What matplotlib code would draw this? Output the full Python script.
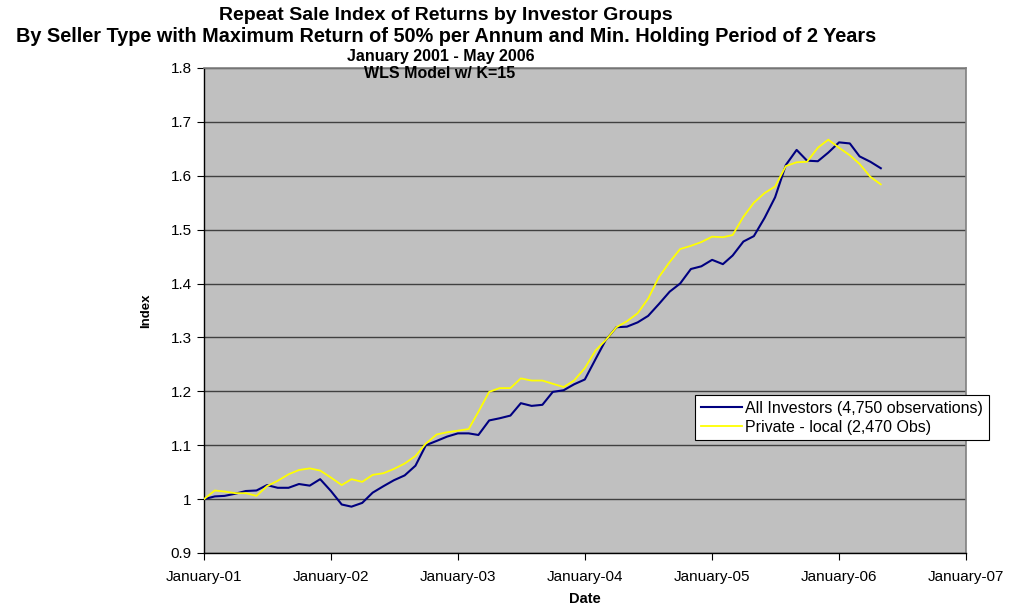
import matplotlib
matplotlib.use("Agg")
import matplotlib.pyplot as plt
import matplotlib.dates as mdates
import pandas as pd

plt.rcParams['font.family'] = ['Liberation Sans', 'DejaVu Sans']

# monthly index values, January 2001 - May 2006
months = pd.date_range("2001-01-01", "2006-05-01", freq="MS")

all_investors = [
    1.000, 1.005, 1.006, 1.010, 1.015, 1.016, 1.026, 1.021, 1.021, 1.028, 1.025, 1.037,
    1.015, 0.990, 0.986, 0.993, 1.012, 1.024, 1.035, 1.044, 1.062, 1.100, 1.108, 1.116,
    1.122, 1.122, 1.119, 1.146, 1.150, 1.155, 1.178, 1.173, 1.175, 1.199, 1.202, 1.213,
    1.222, 1.260, 1.295, 1.319, 1.320, 1.328, 1.340, 1.362, 1.385, 1.400, 1.427, 1.432,
    1.444, 1.436, 1.452, 1.478, 1.488, 1.522, 1.560, 1.620, 1.648, 1.628, 1.627, 1.643,
    1.662, 1.660, 1.636, 1.626, 1.614,
]
private_local = [
    1.000, 1.016, 1.014, 1.011, 1.011, 1.006, 1.024, 1.034, 1.046, 1.054, 1.057, 1.053,
    1.040, 1.026, 1.037, 1.032, 1.045, 1.048, 1.056, 1.066, 1.080, 1.103, 1.120, 1.124,
    1.127, 1.130, 1.162, 1.199, 1.206, 1.206, 1.224, 1.220, 1.220, 1.214, 1.208, 1.220,
    1.243, 1.276, 1.295, 1.319, 1.330, 1.345, 1.372, 1.412, 1.440, 1.464, 1.470, 1.477,
    1.487, 1.486, 1.490, 1.524, 1.550, 1.568, 1.580, 1.618, 1.625, 1.626, 1.652, 1.667,
    1.652, 1.638, 1.622, 1.598, 1.584,
]

series_labels = ["All Investors (4,750 observations)", "Private - local (2,470 Obs)"]
y_ticks = [0.9, 1, 1.1, 1.2, 1.3, 1.4, 1.5, 1.6, 1.7, 1.8]

fig = plt.figure(figsize=(10.14, 6.07), dpi=100)
ax = fig.add_axes([204 / 1014, 1 - 553 / 607, 762 / 1014, 485 / 607])
ax.set_facecolor('#C0C0C0')

ax.plot(months, all_investors, color='#000080', lw=1.5, label=series_labels[0], zorder=3)
ax.plot(months, private_local, color='#FFFF00', lw=1.3, label=series_labels[1], zorder=3)

ax.set_xlim(pd.Timestamp("2001-01-01"), pd.Timestamp("2007-01-01"))
ax.set_ylim(0.9, 1.8)
ax.set_yticks(y_ticks)
ax.set_yticklabels([f"{v:g}" for v in y_ticks])
ax.xaxis.set_major_locator(mdates.YearLocator())
ax.xaxis.set_major_formatter(mdates.DateFormatter("%B-%y"))

ax.yaxis.grid(True, color='#404040', lw=1.0)
ax.set_axisbelow(True)
ax.tick_params(axis='both', direction='out', length=5, width=0.8, labelsize=11, pad=4)
ax.tick_params(axis='x', pad=7)
for side in ['top', 'right']:
    ax.spines[side].set_color('#808080')
    ax.spines[side].set_linewidth(1.2)
for side in ['left', 'bottom']:
    ax.spines[side].set_color('black')
    ax.spines[side].set_linewidth(1.0)

ax.set_xlabel("Date", fontweight='bold', fontsize=10.5, labelpad=6)
ax.set_ylabel("Index", fontweight='bold', fontsize=9.5, labelpad=13)

fig.text(446 / 1014, 1 - 15 / 607, "Repeat Sale Index of Returns by Investor Groups",
         ha='center', va='center', fontsize=14, fontweight='bold')
fig.text(446 / 1014, 1 - 36 / 607,
         "By Seller Type with Maximum Return of 50% per Annum and Min. Holding Period of 2 Years",
         ha='center', va='center', fontsize=14.3, fontweight='bold')
fig.text(441 / 1014, 1 - 56 / 607, "January 2001 - May 2006",
         ha='center', va='center', fontsize=11.5, fontweight='bold')
fig.text(440 / 1014, 1 - 73 / 607, "WLS Model w/ K=15",
         ha='center', va='center', fontsize=11.5, fontweight='bold')

leg = ax.legend(loc='upper left', bbox_to_anchor=(695 / 1014, 1 - 395 / 607),
                bbox_transform=fig.transFigure, fontsize=11.5, frameon=True,
                fancybox=False, framealpha=1, edgecolor='black', handlelength=2.6,
                handletextpad=0.2, borderpad=0.35, labelspacing=0.25, borderaxespad=0)
leg.get_frame().set_linewidth(0.8)

fig.savefig("out.png", dpi=100)
